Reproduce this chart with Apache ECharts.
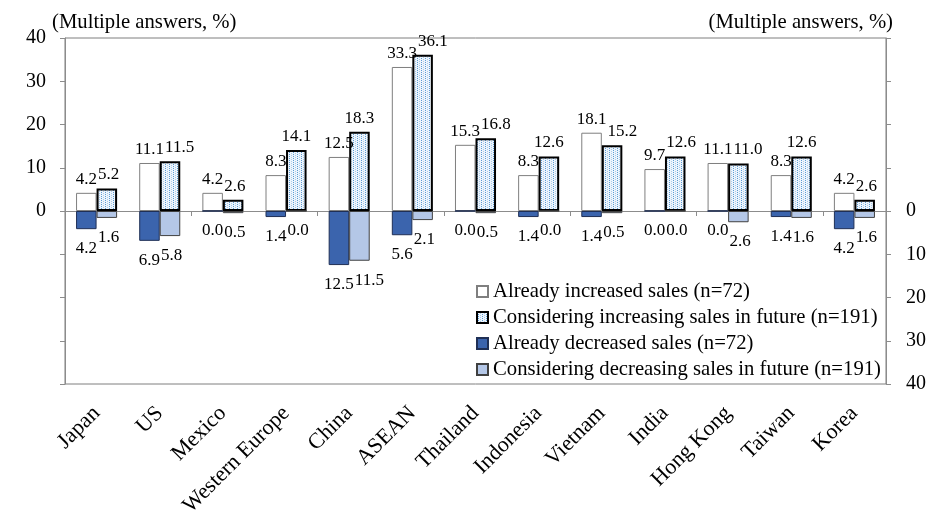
<!DOCTYPE html>
<html>
<head>
<meta charset="utf-8">
<script src="https://cdn.jsdelivr.net/npm/echarts@6/dist/echarts.min.js"></script>
<style>
  html, body { margin: 0; padding: 0; background: #fff; }
  #chart { width: 932px; height: 520px; }
</style>
</head>
<body>
<div id="chart"></div>
<script>
// Markets and the share of firms (%) answering each option
const categories = ['Japan', 'US', 'Mexico', 'Western Europe', 'China', 'ASEAN', 'Thailand',
  'Indonesia', 'Vietnam', 'India', 'Hong Kong', 'Taiwan', 'Korea'];
const alreadyIncreased      = [4.2, 11.1, 4.2, 8.3, 12.5, 33.3, 15.3, 8.3, 18.1, 9.7, 11.1, 8.3, 4.2];
const consideringIncreasing = [5.2, 11.5, 2.6, 14.1, 18.3, 36.1, 16.8, 12.6, 15.2, 12.6, 11.0, 12.6, 2.6];
const alreadyDecreased      = [4.2, 6.9, 0.0, 1.4, 12.5, 5.6, 0.0, 1.4, 1.4, 0.0, 0.0, 1.4, 4.2];
const consideringDecreasing = [1.6, 5.8, 0.5, 0.0, 11.5, 2.1, 0.5, 0.0, 0.5, 0.0, 2.6, 1.6, 1.6];
const seriesNames = [
  'Already increased sales (n=72)',
  'Considering increasing sales in future (n=191)',
  'Already decreased sales (n=72)',
  'Considering decreasing sales in future (n=191)'
];
const tickLabels = [0, 10, 20, 30, 40];
const unitNote = '(Multiple answers, %)';

const serif = '"Liberation Serif", "Times New Roman", serif';

// Small dotted tile used to fill the "considering increasing" bars
function dotPattern() {
  const c = document.createElement('canvas');
  c.width = 4; c.height = 4;
  const g = c.getContext('2d');
  g.fillStyle = '#eef5fc'; g.fillRect(0, 0, 4, 4);
  g.fillStyle = '#5b9bd5'; g.fillRect(1, 0, 1, 1); g.fillRect(1, 2, 1, 1);
  g.fillStyle = '#a9cbec'; g.fillRect(3, 1, 1, 1); g.fillRect(3, 3, 1, 1);
  return c;
}

// Labels of the left bar in each pair are remembered so the right bar's
// label can be nudged sideways when the two would collide.
const leftLabelRects = { up: {}, down: {} };
function pairLayout(side, slot) {
  return function (params) {
    const r = params.labelRect;
    if (slot === 'left') {
      leftLabelRects[side][params.dataIndex] = r;
      return {};
    }
    const l = leftLabelRects[side][params.dataIndex];
    if (!l) return {};
    const overlapX = l.x + l.width + 1 - r.x;
    const overlapY = Math.min(l.y + l.height, r.y + r.height) - Math.max(l.y, r.y);
    if (overlapX > 0 && overlapY > 0) return { dx: overlapX };
    return {};
  };
}

function valueLabel(position, distance) {
  return {
    show: true, position: position, distance: distance,
    fontFamily: serif, fontSize: 17, color: '#000',
    formatter: p => Math.abs(p.value).toFixed(1)
  };
}

function sideAxis(position, inverse, margin) {
  return {
    type: 'value', position: position, inverse: inverse,
    min: -40, max: 40, interval: 10,
    axisLine: { show: true, lineStyle: { color: '#8c8c8c' } },
    axisTick: { show: true, length: 5, lineStyle: { color: '#8c8c8c' } },
    splitLine: { show: false },
    axisLabel: {
      margin: margin, fontFamily: serif, fontSize: 20, color: '#000',
      formatter: v => (tickLabels.indexOf(v) >= 0 ? String(v) : '')
    }
  };
}

const chart = echarts.init(document.getElementById('chart'), null, { renderer: 'canvas' });
chart.setOption({
  animation: false,
  backgroundColor: '#fff',
  graphic: [
    { type: 'text', left: 52, top: 12, style: { text: unitNote, font: '20.7px ' + serif, fill: '#000' } },
    { type: 'text', right: 39, top: 12, style: { text: unitNote, font: '20.7px ' + serif, fill: '#000' } }
  ],
  grid: {
    left: 65, right: 46, top: 38, bottom: 136,
    show: true, borderColor: '#7f7f7f', borderWidth: 1,
    containLabel: false, outerBoundsMode: 'none'
  },
  legend: {
    orient: 'vertical', left: 471, top: 276,
    itemWidth: 11, itemHeight: 11, itemGap: 5,
    icon: 'rect',
    textStyle: { fontFamily: serif, fontSize: 20.7, color: '#000' },
    data: seriesNames
  },
  xAxis: [
    {
      type: 'category', data: categories, position: 'bottom',
      axisLine: { onZero: true, lineStyle: { color: '#8c8c8c' } },
      axisTick: { show: true, length: 5, lineStyle: { color: '#8c8c8c' } },
      axisLabel: { show: false }
    },
    {
      type: 'category', data: categories, position: 'bottom',
      axisLine: { show: false, onZero: false },
      axisTick: { show: false },
      axisLabel: { show: true, interval: 0, rotate: 45, margin: 26, fontFamily: serif, fontSize: 22, color: '#000' }
    }
  ],
  yAxis: [sideAxis('left', false, 19), sideAxis('right', true, 20)],
  series: [
    {
      name: seriesNames[0], type: 'bar', xAxisIndex: 0, yAxisIndex: 0,
      barGap: '0%', barCategoryGap: '35%',
      data: alreadyIncreased,
      itemStyle: { color: '#ffffff', borderColor: '#7f7f7f', borderWidth: 1 },
      label: valueLabel('top', 5),
      labelLayout: pairLayout('up', 'left')
    },
    {
      name: seriesNames[1], type: 'bar', xAxisIndex: 0, yAxisIndex: 0,
      barGap: '0%', barCategoryGap: '35%',
      data: consideringIncreasing,
      itemStyle: { color: { image: dotPattern(), repeat: 'repeat' }, borderColor: '#000', borderWidth: 2 },
      label: valueLabel('top', 5),
      labelLayout: pairLayout('up', 'right')
    },
    {
      name: seriesNames[2], type: 'bar', xAxisIndex: 1, yAxisIndex: 0,
      barGap: '0%', barCategoryGap: '35%',
      data: alreadyDecreased.map(v => -v),
      itemStyle: { color: '#3b64ad', borderColor: '#1f2f55', borderWidth: 1 },
      label: valueLabel('bottom', 11),
      labelLayout: pairLayout('down', 'left')
    },
    {
      name: seriesNames[3], type: 'bar', xAxisIndex: 1, yAxisIndex: 0,
      barGap: '0%', barCategoryGap: '35%',
      data: consideringDecreasing.map(v => -v),
      itemStyle: { color: '#b4c7e7', borderColor: '#404040', borderWidth: 1 },
      label: valueLabel('bottom', 11),
      labelLayout: pairLayout('down', 'right')
    }
  ]
});
</script>
</body>
</html>
